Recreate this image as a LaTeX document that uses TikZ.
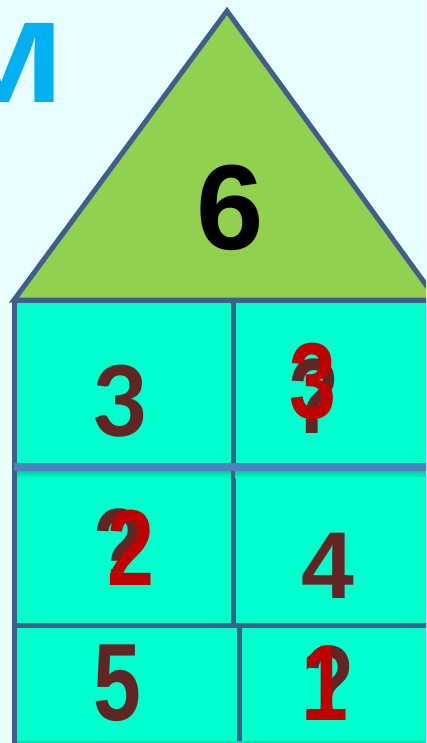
\documentclass[tikz,border=0pt]{standalone}
\usepackage{fontspec}
\setmainfont{Liberation Sans}
\newfontfamily\carl{Carlito}
\definecolor{bgc}{HTML}{E8FFFF}
\definecolor{mblue}{HTML}{00B0F0}
\definecolor{roof}{HTML}{92D050}
\definecolor{wall}{HTML}{00FFCC}
\definecolor{edgec}{HTML}{3F5F8A}
\definecolor{sepc}{HTML}{4F81BD}
\definecolor{brn}{HTML}{632523}
\definecolor{redc}{HTML}{C00000}
\definecolor{shad}{HTML}{00C8A0}
\tikzset{
  cell/.style={draw=edgec, fill=wall, line width=5pt},
  digit/.style={inner sep=0pt, font=\bfseries\fontsize{#1}{#1}\selectfont},
  narrow/.style={xscale=0.78},
  brownnum/.style={digit=#1, text=brn},
  rednum/.style={digit=#1, text=redc, narrow},
}
\begin{document}
\begin{tikzpicture}[x=1pt,y=-1pt]
\useasboundingbox (0,0) rectangle (426,743);
\clip (0,0) rectangle (426,743);
\fill[bgc] (0,0) rectangle (426,743);
% partial blue letter
\node[digit=115, text=mblue, anchor=south east, xscale=1.3] (mletter) at (64,103) {M};
% roof
\coordinate (apex) at (227,11);
\coordinate (bl) at (14,300);
\coordinate (br) at (437,300);
\draw[draw=edgec, fill=roof, line width=5pt, line join=miter] (apex) -- (bl) -- (br) -- cycle;
% cells
\draw[cell] (14,300) rectangle (233,465);
\draw[cell] (233,300) rectangle (440,465);
\draw[cell] (14,467) rectangle (233,625);
\draw[cell] (233,467) rectangle (440,625);
\draw[cell] (14,625) rectangle (239,750);
\draw[cell] (239,625) rectangle (440,750);
\draw[shad!60!wall, line width=1.5pt] (17,742) -- (426,742);
% separator with shadow
\shade[top color=shad, bottom color=wall] (17,470) rectangle (230.5,478);
\shade[top color=shad, bottom color=wall] (235.5,470) rectangle (440,478);
\fill[sepc] (14,463) rectangle (440,471);
% numbers
\node[digit=121, text=black] (six) at (230,208) {6};
\node[inner sep=0pt, font=\carl\bfseries\fontsize{109}{109}\selectfont, text=brn] (three) at (119,401) {3};
\node[brownnum=107, narrow] (q1) at (314,396) {?};
\node[rednum=108] (r3) at (313,381) {3};
\node[brownnum=107, narrow] (q2) at (119,546) {?};
\node[rednum=108] (r2) at (131,548) {2};
\node[brownnum=95] (four) at (328,566) {4};
\node[brownnum=110, narrow] (five) at (117,683) {5};
\node[brownnum=107, narrow] (q3) at (329,683) {?};
\node[rednum=108] (r1) at (325,683) {1};
\end{tikzpicture}
\end{document}
